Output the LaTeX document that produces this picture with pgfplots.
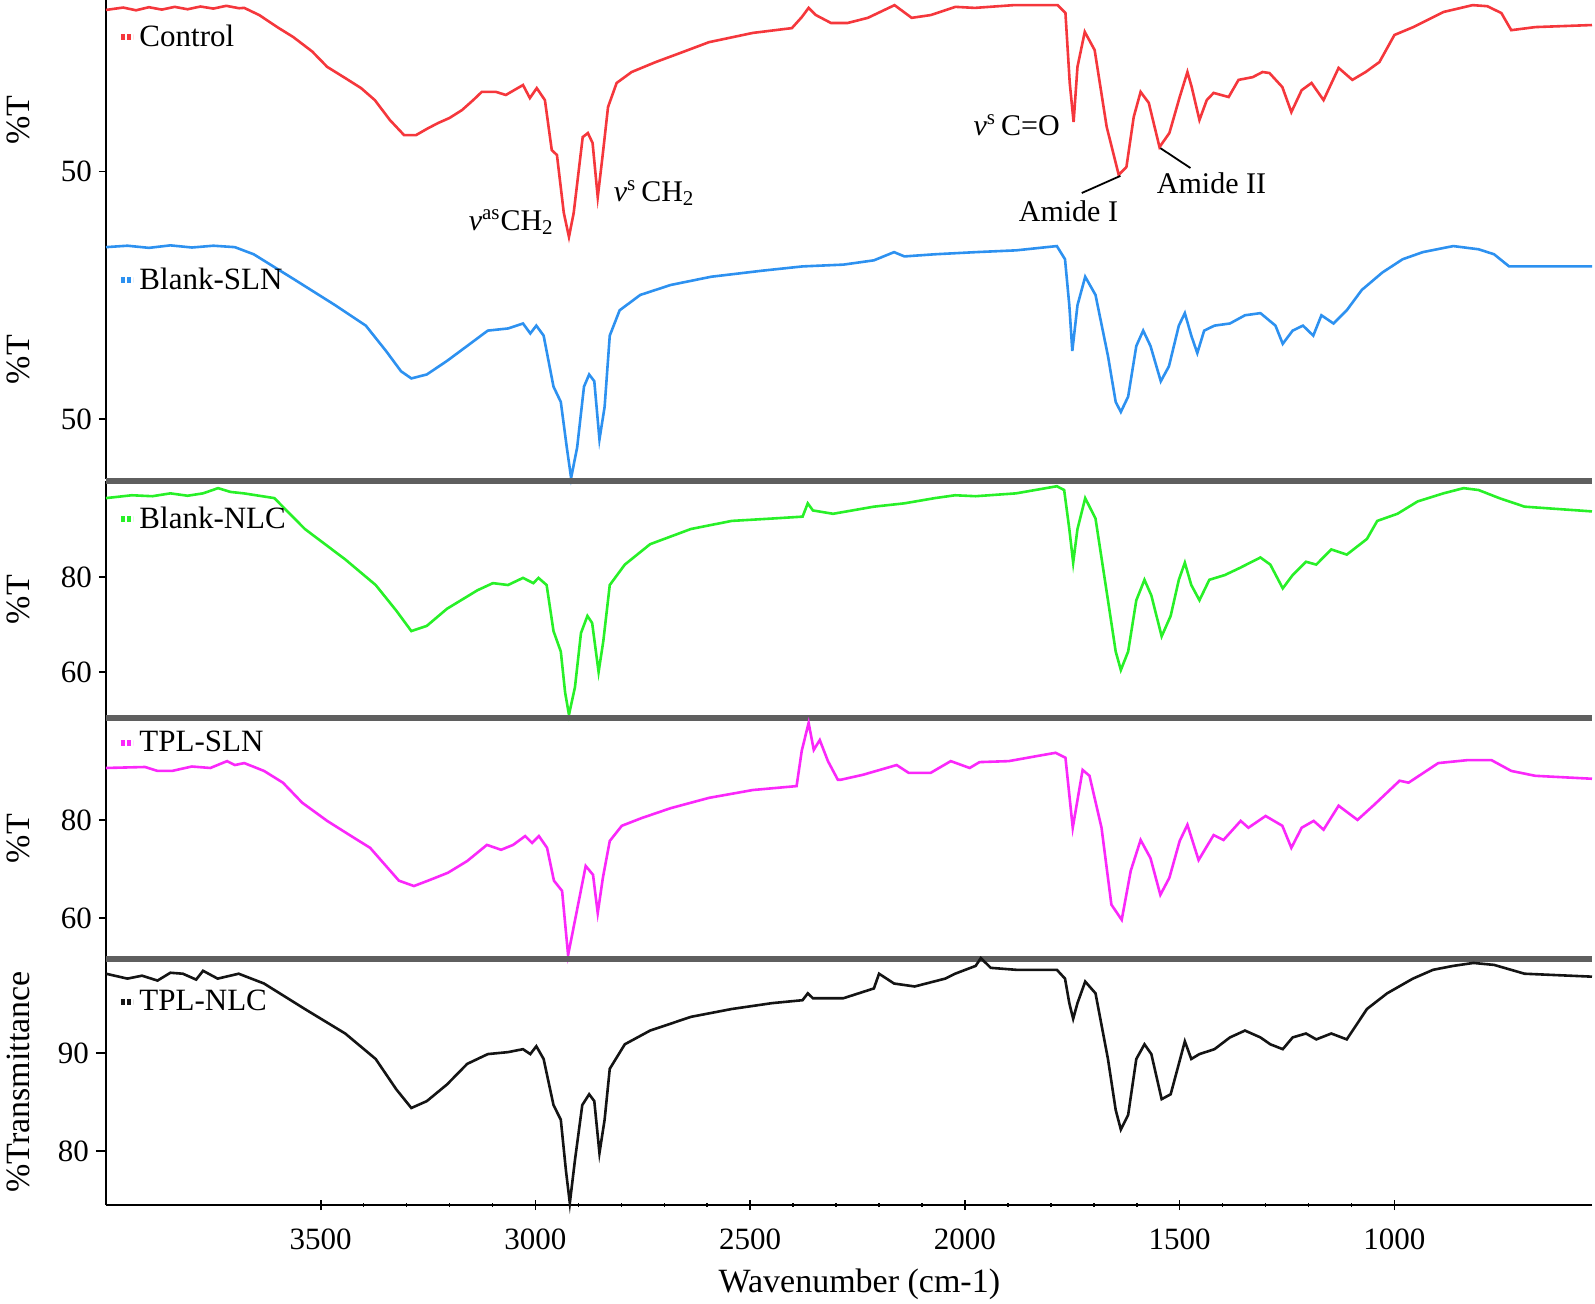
\documentclass[border=0pt]{standalone}
\usepackage{fontspec}
\setmainfont{Liberation Serif}
\usepackage{pgfplots}
\pgfplotsset{compat=1.18}

\definecolor{cRed}{RGB}{245,55,60}
\definecolor{cBlue}{RGB}{45,145,240}
\definecolor{cGreen}{RGB}{40,240,40}
\definecolor{cMag}{RGB}{250,40,250}
\definecolor{cBlack}{RGB}{20,20,20}
\definecolor{sepgray}{RGB}{95,95,95}

\pgfplotsset{
  panel/.style={
    scale only axis, width=743pt,
    xmin=540, xmax=4000, x dir=reverse,
    axis y line=left,
    axis line style={-, line width=1.1pt, black},
    tick align=outside,
    major tick length=3.5pt, minor tick length=2pt,
    tick style={black, line width=0.8pt},
    tick label style={font=\fontsize{15.5}{15.5}\selectfont},
    ylabel style={font=\fontsize{17}{17}\selectfont, at={(axis description cs:-0.0592,0.5)}, anchor=center},
    /pgf/number format/assume math mode=true,
    /pgf/number format/1000 sep={},
    clip=false,
    legend cell align=left,
    legend style={draw=none, fill=none, font=\fontsize{15.5}{15.5}\selectfont, inner sep=0pt, anchor=west},
    legend image code/.code={\draw[#1, line width=2.6pt, dash pattern=on 2pt off 1pt] (0pt,0pt) -- (6pt,0pt);},
    every axis plot/.append style={line width=1.3pt},
  },
  upper/.style={panel, axis x line=none, xtick=\empty},
}

\begin{document}
\begin{tikzpicture}
\path[use as bounding box] (-53pt,0pt) rectangle (744.5pt,-651.5pt);

% Control
\begin{axis}[upper, at={(0pt,0pt)}, anchor=north west, height=120pt,
  ymin=30, ymax=100, ytick={50}, ylabel={\%T},
  legend style={at={(rel axis cs:0.008,0.846)}}]
\addplot[cRed] coordinates {
(4000,97.1) (3960,97.8) (3930,97.0) (3900,97.9) (3870,97.2) (3840,98.0) (3810,97.3) (3780,98.1) (3750,97.5) (3720,98.3) (3690,97.6) (3678,97.7) (3643,95.6) (3600,92.0) (3564,89.2) (3520,85.0) (3485,80.5) (3440,77.0) (3406,74.3) (3374,70.8) (3339,65.0) (3306,60.6) (3278,60.6) (3250,62.6) (3227,64.1) (3200,65.6) (3171,67.9) (3145,70.8) (3125,73.2) (3092,73.2) (3069,72.3) (3029,75.2) (3013,71.4) (2997,74.3) (2978,70.8) (2962,56.2) (2950,54.8) (2934,37.9) (2922,30.9) (2911,37.9) (2890,60.0) (2878,61.2) (2867,58.3) (2855,42.5) (2844,54.2) (2831,68.8) (2811,75.8) (2776,79.0) (2720,81.9) (2664,84.5) (2596,87.7) (2494,90.4) (2403,91.8) (2380,95.0) (2364,97.7) (2347,95.6) (2312,93.3) (2273,93.3) (2226,94.8) (2164,98.5) (2124,94.8) (2080,95.6) (2022,98.0) (1977,97.7) (1887,98.5) (1784,98.5) (1766,96.2) (1756,75.8) (1747,64.4) (1738,80.5) (1721,90.7) (1698,85.4) (1670,63.0) (1642,49.0) (1624,51.3) (1607,65.9) (1591,73.2) (1572,70.0) (1547,57.1) (1524,61.2) (1500,71.7) (1482,79.0) (1472,74.6) (1454,65.0) (1437,70.8) (1421,72.9) (1386,71.7) (1363,76.7) (1330,77.5) (1307,79.0) (1291,78.7) (1261,74.6) (1240,67.3) (1216,73.7) (1193,75.8) (1165,70.8) (1130,80.2) (1098,76.7) (1067,79.0) (1035,81.9) (1000,89.8) (956,92.1) (886,96.5) (818,98.5) (784,98.2) (751,96.2) (728,91.2) (672,92.1) (540,92.7)
};
\addlegendentry{Control}
\node[anchor=east, font=\fontsize{15}{15}\selectfont] at (axis cs:2941,35.2) {\textit{ν}\textsuperscript{as}CH\textsubscript{2}};
\node[anchor=west, font=\fontsize{15}{15}\selectfont] at (axis cs:2834,43.7) {\textit{ν}\textsuperscript{s}\,CH\textsubscript{2}};
\node[anchor=east, font=\fontsize{15}{15}\selectfont] at (axis cs:1763,63.5) {\textit{ν}\textsuperscript{s}\,C=O};
\node[font=\fontsize{15}{15}\selectfont] at (axis cs:1759,38.5) {Amide I};
\node[font=\fontsize{15}{15}\selectfont] at (axis cs:1426,46.6) {Amide II};
\draw[black, line width=0.9pt] (axis cs:1638,48.7) -- (axis cs:1728,43.7);
\draw[black, line width=0.9pt] (axis cs:1545,56.8) -- (axis cs:1475,51.0);
\end{axis}

% Blank-SLN
\begin{axis}[upper, at={(0pt,-120pt)}, anchor=north west, height=119.5pt,
  ymin=33.2, ymax=100.2, ytick={50}, ylabel={\%T},
  legend style={at={(rel axis cs:0.008,0.833)}}]
\addplot[cBlue] coordinates {
(4000,98.2) (3950,98.6) (3900,98.0) (3850,98.7) (3800,98.1) (3750,98.6) (3700,98.2) (3656,96.2) (3561,89.1) (3466,81.9) (3395,76.2) (3348,69.1) (3313,63.4) (3289,61.4) (3253,62.5) (3206,66.3) (3159,70.5) (3111,74.8) (3064,75.4) (3029,76.8) (3012,74.0) (2998,76.2) (2981,73.4) (2958,59.1) (2941,54.8) (2927,42.0) (2917,33.5) (2903,42.0) (2887,59.1) (2875,62.5) (2863,60.6) (2851,44.3) (2839,53.4) (2827,73.4) (2804,80.5) (2756,84.8) (2685,87.6) (2591,89.9) (2472,91.6) (2378,92.8) (2283,93.3) (2212,94.5) (2165,96.8) (2141,95.6) (2070,96.2) (1975,96.8) (1881,97.3) (1786,98.5) (1767,94.8) (1757,81.9) (1750,69.1) (1738,81.9) (1720,89.9) (1696,84.8) (1667,67.7) (1649,54.8) (1637,52.0) (1620,56.3) (1601,70.5) (1585,74.8) (1568,70.5) (1544,60.6) (1525,64.8) (1502,76.2) (1488,79.7) (1473,73.4) (1459,68.5) (1443,74.8) (1419,76.2) (1383,76.8) (1348,79.1) (1312,79.7) (1277,76.2) (1260,71.1) (1237,74.8) (1213,76.2) (1189,73.4) (1170,79.1) (1142,76.8) (1111,80.5) (1076,86.2) (1028,91.1) (981,94.8) (934,96.8) (863,98.5) (804,97.6) (768,96.2) (733,92.8) (673,92.8) (540,92.8)
};
\addlegendentry{Blank-SLN}
\end{axis}

% Blank-NLC
\begin{axis}[upper, at={(0pt,-240.5pt)}, anchor=north west, height=118.5pt,
  ymin=50.3, ymax=100.2, ytick={60,80}, ylabel={\%T},
  legend style={at={(rel axis cs:0.008,0.84)}}]
\draw[sepgray, line width=3pt] (rel axis cs:0,1) -- (rel axis cs:1,1);
\addplot[cGreen] coordinates {
(4000,96.6) (3940,97.2) (3892,97.0) (3850,97.6) (3810,97.1) (3774,97.6) (3739,98.7) (3710,97.9) (3679,97.6) (3608,96.6) (3537,90.1) (3443,83.7) (3372,78.3) (3324,72.9) (3289,68.6) (3253,69.7) (3206,73.3) (3135,77.2) (3099,78.7) (3064,78.3) (3029,79.8) (3005,78.7) (2993,79.8) (2974,78.3) (2958,68.6) (2941,64.3) (2931,55.7) (2922,51.0) (2908,56.8) (2894,68.2) (2879,71.8) (2868,70.3) (2853,60.0) (2842,66.5) (2827,78.3) (2792,82.6) (2733,86.9) (2638,90.1) (2543,91.8) (2449,92.3) (2378,92.7) (2366,95.5) (2354,94.0) (2307,93.3) (2212,94.8) (2141,95.5) (2070,96.6) (2023,97.2) (1975,97.0) (1881,97.6) (1786,99.1) (1769,98.3) (1757,90.1) (1748,83.0) (1738,90.1) (1720,96.6) (1696,92.3) (1667,75.1) (1649,64.3) (1637,60.4) (1620,64.3) (1601,75.1) (1582,79.4) (1566,76.1) (1542,67.5) (1521,71.8) (1502,79.4) (1488,83.0) (1473,78.3) (1454,75.1) (1431,79.4) (1395,80.4) (1360,81.9) (1312,84.1) (1289,82.6) (1260,77.6) (1237,80.4) (1206,83.2) (1182,82.6) (1147,85.8) (1111,84.7) (1064,88.0) (1040,91.8) (993,93.3) (946,95.9) (886,97.6) (839,98.7) (804,98.3) (756,96.6) (697,94.8) (540,93.8)
};
\addlegendentry{Blank-NLC}
\end{axis}

% TPL-SLN
\begin{axis}[upper, at={(0pt,-359pt)}, anchor=north west, height=120.5pt,
  ymin=51.6, ymax=100.8, ytick={60,80}, ylabel={\%T},
  legend style={at={(rel axis cs:0.008,0.896)}}]
\draw[sepgray, line width=3pt] (rel axis cs:0,1) -- (rel axis cs:1,1);
\addplot[cMag] coordinates {
(4000,90.6) (3909,90.8) (3880,90.0) (3846,90.0) (3800,90.9) (3757,90.6) (3718,92.0) (3700,91.2) (3678,91.6) (3632,90.0) (3588,87.6) (3543,83.5) (3485,79.8) (3429,76.7) (3385,74.3) (3350,70.8) (3318,67.6) (3283,66.5) (3250,67.6) (3204,69.2) (3159,71.6) (3113,74.9) (3080,73.9) (3052,74.9) (3024,76.7) (3008,75.3) (2992,76.7) (2973,74.3) (2957,67.6) (2938,65.5) (2924,52.4) (2910,58.6) (2883,70.6) (2866,68.8) (2855,61.0) (2843,68.2) (2827,75.7) (2799,78.8) (2752,80.4) (2685,82.4) (2596,84.5) (2494,86.1) (2392,86.9) (2380,94.1) (2364,99.8) (2352,94.3) (2338,96.3) (2319,92.0) (2296,88.2) (2289,88.2) (2238,89.2) (2159,91.2) (2131,89.6) (2080,89.6) (2033,92.0) (1989,90.6) (1966,91.8) (1898,92.0) (1828,93.1) (1789,93.7) (1766,92.7) (1749,78.4) (1726,90.2) (1710,89.0) (1682,78.4) (1659,62.7) (1635,59.6) (1614,69.6) (1591,75.9) (1568,72.2) (1545,64.7) (1524,68.2) (1500,75.7) (1482,79.0) (1456,71.8) (1421,76.9) (1398,75.9) (1358,79.8) (1340,78.4) (1300,80.8) (1261,78.8) (1240,74.3) (1216,78.4) (1188,79.8) (1165,78.0) (1130,82.9) (1086,80.0) (1047,83.1) (988,88.0) (967,87.6) (898,91.6) (830,92.2) (774,92.2) (728,90.0) (672,89.0) (540,88.4)
};
\addlegendentry{TPL-SLN}
\end{axis}

% TPL-NLC
\begin{axis}[panel, at={(0pt,-479.5pt)}, anchor=north west, height=123pt,
  axis x line=bottom,
  x axis line style={-}, every outer x axis line/.append style={-},
  ymin=74.5, ymax=99.6, ytick={80,90}, ylabel={\%Transmittance},
  xtick={1000,1500,...,3500}, minor x tick num=4, major tick length=5pt,
  xticklabel style={yshift=-6pt},
  xlabel={Wavenumber (cm-1)},
  xlabel style={font=\fontsize{17}{17}\selectfont, at={(axis description cs:0.507,-0.321)}, anchor=center},
  legend style={at={(rel axis cs:0.008,0.825)}}]
\draw[sepgray, line width=3pt] (rel axis cs:0,1) -- (rel axis cs:1,1);
\addplot[cBlack] coordinates {
(4000,98.1) (3950,97.6) (3916,97.9) (3880,97.4) (3850,98.2) (3821,98.1) (3790,97.5) (3774,98.4) (3740,97.6) (3691,98.1) (3632,97.1) (3537,94.5) (3443,92.0) (3372,89.4) (3324,86.3) (3289,84.4) (3253,85.1) (3206,86.8) (3159,88.9) (3111,89.9) (3064,90.1) (3029,90.4) (3012,89.9) (2998,90.7) (2981,89.4) (2958,84.7) (2941,83.2) (2929,78.0) (2920,74.7) (2908,79.1) (2891,84.7) (2875,85.8) (2863,85.1) (2851,79.8) (2839,83.2) (2827,88.4) (2792,90.9) (2733,92.3) (2638,93.7) (2543,94.5) (2449,95.1) (2378,95.4) (2366,96.1) (2354,95.6) (2283,95.6) (2212,96.6) (2200,98.1) (2165,97.1) (2117,96.8) (2046,97.6) (2023,98.1) (1975,98.9) (1963,99.7) (1940,98.7) (1881,98.5) (1786,98.5) (1767,97.6) (1757,95.1) (1748,93.5) (1738,95.1) (1720,97.3) (1696,96.1) (1667,89.4) (1649,84.2) (1637,82.2) (1620,83.7) (1601,89.4) (1582,90.9) (1566,89.9) (1542,85.3) (1521,85.8) (1502,88.9) (1488,91.2) (1473,89.4) (1454,89.9) (1419,90.4) (1383,91.6) (1348,92.3) (1312,91.6) (1289,90.9) (1260,90.4) (1237,91.6) (1206,92.0) (1182,91.4) (1147,92.0) (1111,91.4) (1064,94.5) (1017,96.1) (957,97.6) (910,98.5) (863,98.9) (816,99.2) (768,99.0) (697,98.1) (540,97.8)
};
\addlegendentry{TPL-NLC}
\end{axis}
\end{tikzpicture}
\end{document}
